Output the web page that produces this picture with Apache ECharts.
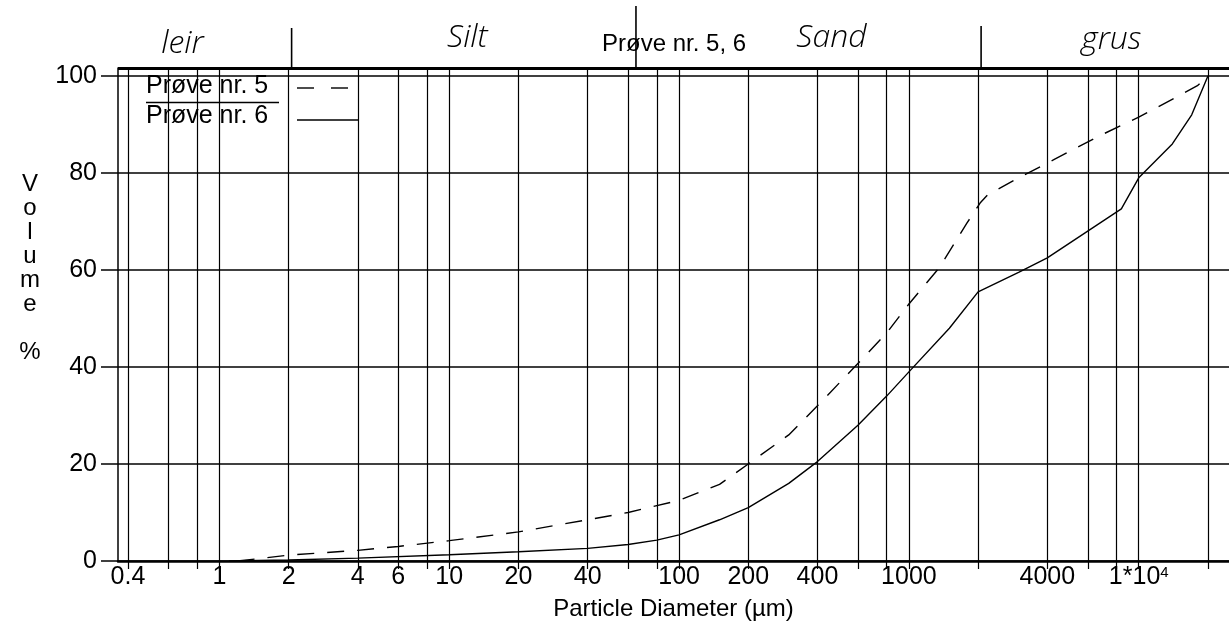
<!DOCTYPE html>
<html>
<head>
<meta charset="utf-8">
<script src="https://cdn.jsdelivr.net/npm/echarts@6/dist/echarts.min.js"></script>
<style>
html,body{margin:0;padding:0;background:#fff;}
#c{width:1229px;height:630px;}
</style>
</head>
<body>
<div id="c"></div>
<script>
// ---- data ----
const diam5 = [1.2, 2, 4, 6, 10, 20, 40, 60, 100, 150, 200, 300, 400, 580, 800, 1000, 1330, 1420, 1790, 2040, 2200, 3000, 4250, 6700, 10000, 18000, 20000];
const vol5  = [0, 1.2, 2.2, 3, 4.2, 6, 8.5, 10, 12.5, 15.8, 20, 26, 32, 40, 47, 53, 60, 62, 69.7, 73.8, 75.5, 79, 82.7, 87.6, 91.5, 98, 100];
const diam6 = [1.1, 2, 4, 10, 20, 40, 60, 80, 100, 150, 200, 300, 400, 600, 800, 1000, 1500, 2000, 3000, 4000, 6300, 8400, 10000, 14000, 17000, 20000];
const vol6  = [0, 0.2, 0.6, 1.3, 1.9, 2.6, 3.4, 4.3, 5.4, 8.5, 11, 16, 20.5, 28, 34, 39, 48, 55.5, 59.5, 62.5, 68.7, 72.6, 79, 86, 92, 100];
const gridX = [0.4, 0.6, 0.8, 1, 2, 4, 6, 8, 10, 20, 40, 60, 80, 100, 200, 400, 600, 800, 1000, 2000, 4000, 6000, 8000, 10000, 20000];
const labelX = [0.4, 1, 2, 4, 6, 10, 20, 40, 100, 200, 400, 1000, 4000, 10000];
const yTicks = [0, 20, 40, 60, 80, 100];
const xMin = 0.362, xMax = 24700, yMax = 101.65;
const zoneBounds = [2, 63, 2000];
const zoneNames = ['leir', 'Silt', 'Sand', 'grus'];
const zoneCenters = [0.69, 12, 460, 7600];
const seriesNames = ['Prøve nr. 5', 'Prøve nr. 6'];
const titleText = 'Prøve nr. 5, 6';

const FONT = 'Liberation Sans, Arial, sans-serif';
const chart = echarts.init(document.getElementById('c'), null, {renderer: 'canvas'});

const pts5 = diam5.map((d, i) => [d, vol5[i]]);
const pts6 = diam6.map((d, i) => [d, vol6[i]]);

chart.setOption({
  animation: false,
  backgroundColor: '#fff',
  grid: {left: 118, right: 0, top: 68, bottom: 69, containLabel: false},
  xAxis: {
    type: 'log', logBase: 10, min: xMin, max: xMax,
    name: 'Particle Diameter (µm)', nameLocation: 'middle', nameGap: 36,
    nameTextStyle: {color: '#000', fontSize: 24, fontFamily: FONT},
    axisLine: {show: true, onZero: false, lineStyle: {color: '#000', width: 2.5}},
    axisTick: {show: true, customValues: gridX, length: 8, inside: false, lineStyle: {color: '#000', width: 1.2}},
    axisLabel: {
      customValues: labelX, color: '#000', fontSize: 25, fontFamily: FONT, margin: 4,
      formatter: function (v) {
        if (Math.abs(v - 10000) < 1) return '{b|1*10}{s|4}';
        return '{b|' + String(v) + '}';
      },
      rich: {
        b: {fontSize: 25, fontFamily: FONT, color: '#000'},
        s: {fontSize: 15, fontFamily: FONT, color: '#000', verticalAlign: 'top', padding: [0, 0, 10, 0]}
      }
    },
    splitLine: {show: false}
  },
  yAxis: {
    type: 'value', min: 0, max: yMax, interval: 20,
    axisLine: {show: true, lineStyle: {color: '#000', width: 1.5}},
    axisTick: {show: true, customValues: yTicks, length: 17, lineStyle: {color: '#000', width: 1.5}},
    axisLabel: {customValues: yTicks, color: '#000', fontSize: 25, fontFamily: FONT, margin: 21},
    splitLine: {show: true, lineStyle: {color: '#000', width: 1.6}}
  },
  series: [
    {
      name: seriesNames[0], type: 'line', data: pts5, showSymbol: false, symbol: 'none',
      lineStyle: {color: '#000', width: 1.4, type: [17, 13]}, z: 5
    },
    {
      name: seriesNames[1], type: 'line', data: pts6, showSymbol: false, symbol: 'none',
      lineStyle: {color: '#000', width: 1.4, type: 'solid'}, z: 5,
      markLine: {
        silent: true, symbol: ['none', 'none'], label: {show: false},
        lineStyle: {color: '#000', width: 1.2, type: 'solid'},
        data: gridX.map(v => ({xAxis: v})).concat([{yAxis: yMax, lineStyle: {width: 2.8}}])
      }
    }
  ]
});

// overlay decorations positioned through the chart's own scales
function px(v) { return chart.convertToPixel({xAxisIndex: 0}, v); }
const topY = chart.convertToPixel({yAxisIndex: 0}, yMax);
const lineTops = [28, 6, 26];
const g = [];
zoneBounds.forEach((b, i) => {
  const x = px(b) + 3;
  g.push({type: 'line', shape: {x1: x, y1: lineTops[i], x2: x, y2: topY}, style: {stroke: '#000', lineWidth: 1.6}, z: 10});
});
const zoneY = [44, 38, 38, 40];
zoneNames.forEach((n, i) => {
  g.push({type: 'text', x: px(zoneCenters[i]), y: zoneY[i],
    style: {text: n, font: 'italic 300 32px "Open Sans", "DejaVu Sans", sans-serif', fill: '#000', align: 'center', verticalAlign: 'middle'}, z: 10});
});
g.push({type: 'text', x: 602, y: 44, style: {text: titleText, font: '24px ' + FONT, fill: '#000', align: 'left', verticalAlign: 'middle'}, z: 10});
g.push({type: 'text', x: 30, y: 172, style: {text: 'V\no\nl\nu\nm\ne\n\n%', font: '24px ' + FONT, lineHeight: 24, fill: '#000', align: 'center', verticalAlign: 'top'}, z: 10});
// legend
g.push({type: 'text', x: 146, y: 86, style: {text: seriesNames[0], font: '25px ' + FONT, fill: '#000', verticalAlign: 'middle'}, z: 10});
g.push({type: 'line', shape: {x1: 146, y1: 102.5, x2: 279, y2: 102.5}, style: {stroke: '#000', lineWidth: 1.5}, z: 10});
g.push({type: 'text', x: 146, y: 116, style: {text: seriesNames[1], font: '25px ' + FONT, fill: '#000', verticalAlign: 'middle'}, z: 10});
g.push({type: 'line', shape: {x1: 297, y1: 88, x2: 349, y2: 88}, style: {stroke: '#000', lineWidth: 1.4, lineDash: [17, 17]}, z: 10});
g.push({type: 'line', shape: {x1: 297, y1: 120, x2: 358, y2: 120}, style: {stroke: '#000', lineWidth: 1.4}, z: 10});
chart.setOption({graphic: {elements: g}});
</script>
</body>
</html>
